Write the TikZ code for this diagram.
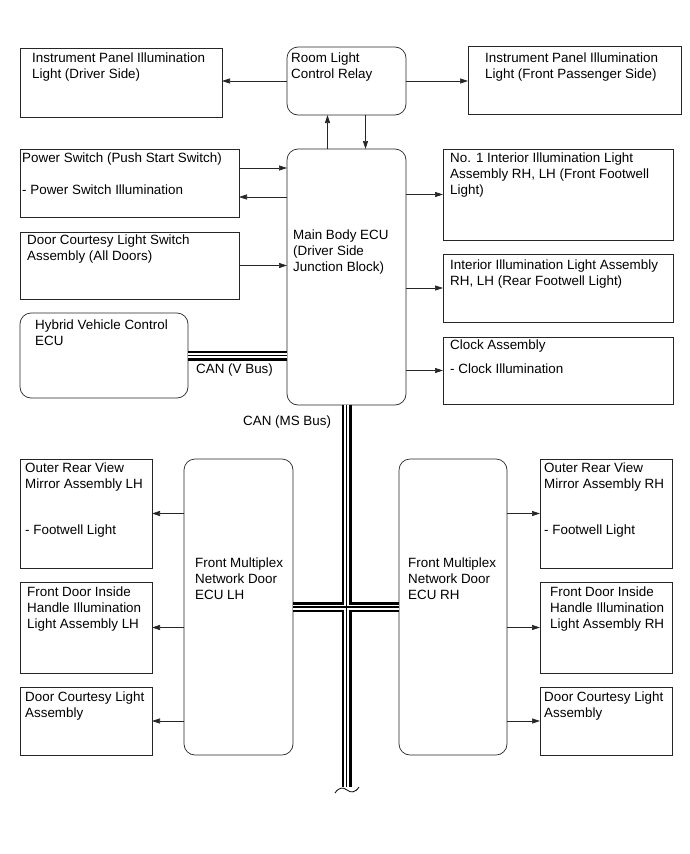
\documentclass[tikz,border=0pt]{standalone}
\usepackage{fontspec}
\setmainfont{Liberation Sans}
\usetikzlibrary{arrows.meta}

\begin{document}
\begin{tikzpicture}[x=1pt,y=-1pt,
    box/.style={draw=black!85, line width=0.7pt, anchor=north west, inner sep=0pt, outer sep=0pt},
    ecu/.style={box, rounded corners=11pt},
    txt/.style={anchor=north west, align=left, inner sep=0pt, font=\fontsize{13.4}{16}\selectfont},
    arr/.style={draw=black!85, line width=0.7pt, -{Triangle[length=8pt,width=5pt]}}]
    \useasboundingbox (0,0) rectangle (690,854);

    % top row
    \node[box, minimum width=202pt, minimum height=69pt] (ipdrv) at (20,48) {};
    \node[ecu, minimum width=119pt, minimum height=68pt] (relay) at (287,47) {};
    \node[box, minimum width=213pt, minimum height=68pt] (ippas) at (468,46) {};
    \node[txt] (ipdrv-t) at (32,53) {Instrument Panel Illumination\\Light (Driver Side)};
    \node[txt] (relay-t) at (291,53) {Room Light\\Control Relay};
    \node[txt] (ippas-t) at (485,53) {Instrument Panel Illumination\\Light (Front Passenger Side)};

    % main body ECU and its neighbours
    \node[ecu, minimum width=119pt, minimum height=256pt] (mbecu) at (287,149) {};
    \node[box, minimum width=219pt, minimum height=68pt] (pwsw) at (20,149) {};
    \node[box, minimum width=219pt, minimum height=67pt] (dcsw) at (20,232) {};
    \node[ecu, minimum width=168pt, minimum height=85pt] (hvecu) at (20,313) {};
    \node[box, minimum width=230pt, minimum height=91pt] (inl1) at (443,149) {};
    \node[box, minimum width=230pt, minimum height=68pt] (inl2) at (443,254) {};
    \node[box, minimum width=230pt, minimum height=67pt] (clock) at (443,337) {};
    \node[txt] (mbecu-t) at (293,230) {Main Body ECU\\(Driver Side\\Junction Block)};
    \node[txt] (pwsw-t) at (22,153) {Power Switch (Push Start Switch)\\[16pt]- Power Switch Illumination};
    \node[txt] (dcsw-t) at (27,235) {Door Courtesy Light Switch\\Assembly (All Doors)};
    \node[txt] (hvecu-t) at (35,320) {Hybrid Vehicle Control\\ECU};
    \node[txt] (inl1-t) at (450,153) {No. 1 Interior Illumination Light\\Assembly RH, LH (Front Footwell\\Light)};
    \node[txt] (inl2-t) at (450,260) {Interior Illumination Light Assembly\\RH, LH (Rear Footwell Light)};
    \node[txt] (clock-t) at (450,340) {Clock Assembly\\[8pt]- Clock Illumination};

    % door ECUs
    \node[ecu, minimum width=109pt, minimum height=296pt] (fmlh) at (184,459) {};
    \node[ecu, minimum width=108pt, minimum height=296pt] (fmrh) at (399,459) {};
    \node[box, minimum width=132pt, minimum height=109pt] (mirlh) at (20,459) {};
    \node[box, minimum width=132pt, minimum height=91pt] (hdllh) at (20,582) {};
    \node[box, minimum width=132pt, minimum height=68pt] (dcllh) at (20,687) {};
    \node[box, minimum width=132pt, minimum height=109pt] (mirrh) at (540,459) {};
    \node[box, minimum width=132pt, minimum height=91pt] (hdlrh) at (540,582) {};
    \node[box, minimum width=132pt, minimum height=68pt] (dclrh) at (540,687) {};
    \node[txt] (fmlh-t) at (195,558) {Front Multiplex\\Network Door\\ECU LH};
    \node[txt] (fmrh-t) at (408,558) {Front Multiplex\\Network Door\\ECU RH};
    \node[txt] (mirlh-t) at (25,463) {Outer Rear View\\Mirror Assembly LH\\[30pt]- Footwell Light};
    \node[txt] (hdllh-t) at (27,587) {Front Door Inside\\Handle Illumination\\Light Assembly LH};
    \node[txt] (dcllh-t) at (25,692) {Door Courtesy Light\\Assembly};
    \node[txt] (mirrh-t) at (544,463) {Outer Rear View\\Mirror Assembly RH\\[30pt]- Footwell Light};
    \node[txt] (hdlrh-t) at (550,587) {Front Door Inside\\Handle Illumination\\Light Assembly RH};
    \node[txt] (dclrh-t) at (544,692) {Door Courtesy Light\\Assembly};

    % connectors
    \draw[arr] (relay.west) -- (ipdrv.east |- relay.west);
    \draw[arr] (relay.east) -- (ippas.west |- relay.east);
    \draw[arr] ([xshift=-19pt]mbecu.north) -- ([xshift=-19pt]relay.south);
    \draw[arr] ([xshift=19pt]relay.south) -- ([xshift=19pt]mbecu.north);
    \coordinate (pwin) at ([yshift=15pt]pwsw.east);
    \coordinate (pwout) at ([yshift=-14pt]pwsw.east);
    \draw[arr] (pwin) -- (mbecu.west |- pwin);
    \draw[arr] (mbecu.west |- pwout) -- (pwout);
    \draw[arr] (dcsw.east) -- (mbecu.west |- dcsw.east);
    \foreach \b in {inl1,inl2,clock}
      \draw[arr] (mbecu.east |- \b.west) -- (\b.west);
    \foreach \b in {mirlh,hdllh,dcllh}
      \draw[arr] (fmlh.west |- \b.east) -- (\b.east);
    \foreach \b in {mirrh,hdlrh,dclrh}
      \draw[arr] (fmrh.east |- \b.west) -- (\b.west);

    % CAN buses
    \coordinate (busend) at (mbecu.south |- 0,787);
    \foreach \w/\c in {10/black, 5/white, 1.6/black}
      \draw[line width=\w pt, \c] (hvecu.east) -- (mbecu.west |- hvecu.east)
        (mbecu.south) -- (busend)
        (fmlh.east) -- (fmrh.west);
    \draw[line width=0.8pt] (335,793) .. controls (339,787) and (343,787) .. (347,790)
      .. controls (351,793) and (355,793) .. (359,787);
    \node[txt, anchor=west] (canv) at (196,370) {CAN (V Bus)};
    \node[txt, anchor=west] (canms) at (243,422) {CAN (MS Bus)};
\end{tikzpicture}
\end{document}
